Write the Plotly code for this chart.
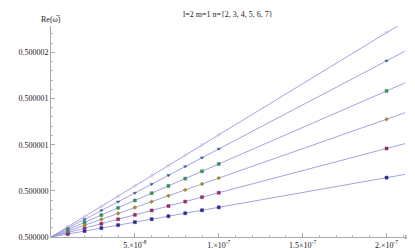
import numpy as np
import plotly.graph_objects as go

BASE = 0.5
x_vals = [1e-8, 2e-8, 3e-8, 4e-8, 5e-8, 6e-8, 7e-8, 8e-8, 9e-8, 1e-7, 2e-7]
n_labels = [2, 3, 4, 5, 6, 7]
# Re(omega) - 0.5, in units of 1e-6
off_n2 = [0.0322, 0.0643, 0.0965, 0.1286, 0.1608, 0.1929, 0.2251, 0.2572, 0.2894, 0.3215, 0.643]
off_n3 = [0.0480, 0.0959, 0.1439, 0.1918, 0.2398, 0.2877, 0.3357, 0.3836, 0.4316, 0.4795, 0.959]
off_n4 = [0.0638, 0.1276, 0.1914, 0.2552, 0.3190, 0.3828, 0.4466, 0.5104, 0.5742, 0.6380, 1.276]
off_n5 = [0.0791, 0.1582, 0.2373, 0.3164, 0.3955, 0.4746, 0.5537, 0.6328, 0.7119, 0.7910, 1.582]
off_n6 = [0.0954, 0.1908, 0.2862, 0.3816, 0.4770, 0.5724, 0.6678, 0.7632, 0.8586, 0.9540, 1.908]
off_n7 = [0.1107, 0.2214, 0.3321, 0.4428, 0.5535, 0.6642, 0.7749, 0.8856, 0.9963, 1.1070, 2.214]
series = [off_n2, off_n3, off_n4, off_n5, off_n6, off_n7]

x_tick_vals = [5e-8, 1e-7, 1.5e-7, 2e-7]
x_tick_text = ["5.×10<sup>-8</sup>", "1.×10<sup>-7</sup>", "1.5×10<sup>-7</sup>", "2.×10<sup>-7</sup>"]
y_tick_vals = [0.5, 0.5000005, 0.500001, 0.5000015, 0.500002]
y_tick_text = ["0.500000", "0.500000", "0.500001", "0.500001", "0.500002"]

X_MAX = 2.11e-7
Y_MAX = 0.5000022857

marker_colors = ["#2b2b8f", "#8f2b6f", "#a08a30", "#3a8f5a", "#3a5aa8", "#d8a0d8"]
marker_symbols = ["square", "square", "diamond", "square", "triangle-down", "circle-open"]
line_color = "#9898dc"

fig = go.Figure()
xa = np.array(x_vals)
for i, off in enumerate(series):
    ya = BASE + np.array(off) * 1e-6
    slope = np.sum(xa * (ya - BASE)) / np.sum(xa * xa)
    lx = np.array([0.0, X_MAX])
    fig.add_trace(go.Scatter(x=lx, y=BASE + slope * lx, mode="lines",
                             line=dict(color=line_color, width=0.9), showlegend=False,
                             hoverinfo="skip"))
for i, off in enumerate(series):
    ya = BASE + np.array(off) * 1e-6
    fig.add_trace(go.Scatter(x=x_vals, y=ya, mode="markers", name=f"n={n_labels[i]}",
                             marker=dict(color=marker_colors[i], symbol=marker_symbols[i], size=3,
                                         line=dict(width=0.5, color=marker_colors[i])),
                             showlegend=False, cliponaxis=True))

font = dict(family="Liberation Serif, DejaVu Serif, serif", size=8, color="#222")
fig.update_layout(
    width=415, height=252,
    margin=dict(l=30, r=18, t=18, b=10),
    paper_bgcolor="white", plot_bgcolor="white",
    font=font,
    xaxis=dict(range=[0, X_MAX], showgrid=False, zeroline=False, showline=True,
               linecolor="#aaaaaa", linewidth=1, ticks="inside", ticklen=4, tickcolor="#aaaaaa",
               tickvals=x_tick_vals, ticktext=x_tick_text, tickfont=dict(size=8),
               minor=dict(ticks="inside", ticklen=2, tickcolor="#bbbbbb", dtick=1e-8, showgrid=False)),
    yaxis=dict(range=[BASE, Y_MAX], showgrid=False, zeroline=False, showline=True,
               linecolor="#aaaaaa", linewidth=1, ticks="inside", ticklen=4, tickcolor="#aaaaaa",
               tickvals=y_tick_vals, ticktext=y_tick_text, tickfont=dict(size=8),
               minor=dict(ticks="inside", ticklen=2, tickcolor="#bbbbbb", dtick=1e-7, showgrid=False)),
    annotations=[
        dict(text="l=2 m=1 n={2, 3, 4, 5, 6, 7}", x=0.5, y=1, xref="paper", yref="paper",
             xanchor="center", yanchor="bottom", yshift=5, showarrow=False, font=dict(size=8)),
        dict(text="Re(ω\u0305)", x=0, y=1, xref="paper", yref="paper", xanchor="center",
             yanchor="bottom", yshift=0, showarrow=False, font=dict(size=8)),
        dict(text="1−a\u0305", x=1, y=0, xref="paper", yref="paper", xanchor="left",
             yanchor="middle", xshift=-3, showarrow=False, font=dict(size=7)),
    ],
)
fig.write_html("out.html")
